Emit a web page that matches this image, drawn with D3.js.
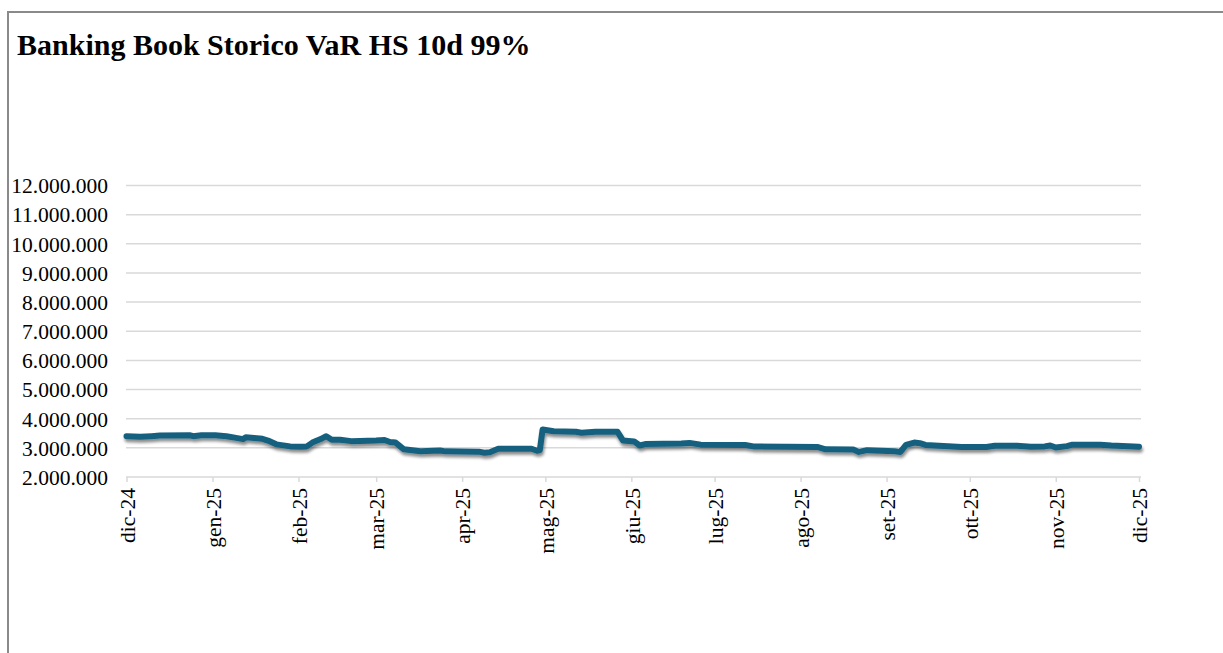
<!DOCTYPE html>
<html>
<head>
<meta charset="utf-8">
<script src="https://cdn.jsdelivr.net/npm/d3@7"></script>
<style>
  html, body { margin: 0; padding: 0; background: #fff; overflow: hidden; }
  svg { display: block; font-family: "Liberation Serif", "Times New Roman", serif; }
</style>
</head>
<body>
<svg id="chart" width="1223" height="653"></svg>
<script>
// ---- Data ----
const title = "Banking Book Storico VaR HS 10d 99%";
const dates = [
  "2024-12-01","2024-12-06","2024-12-10","2024-12-13","2024-12-24","2024-12-25","2024-12-28",
  "2025-01-02","2025-01-06","2025-01-09","2025-01-12","2025-01-13","2025-01-17","2025-01-19",
  "2025-01-21","2025-01-24","2025-01-29","2025-02-02","2025-02-04","2025-02-06","2025-02-09",
  "2025-02-11","2025-02-13","2025-02-16","2025-02-20","2025-03-01","2025-03-04","2025-03-06",
  "2025-03-08","2025-03-11","2025-03-17","2025-03-24","2025-03-26","2025-04-07","2025-04-09",
  "2025-04-11","2025-04-14","2025-04-26","2025-04-28","2025-04-29","2025-04-30","2025-05-04",
  "2025-05-12","2025-05-14","2025-05-19","2025-05-27","2025-05-29","2025-06-02","2025-06-04",
  "2025-06-06","2025-06-19","2025-06-22","2025-06-26","2025-07-12","2025-07-15","2025-08-07",
  "2025-08-10","2025-08-20","2025-08-22","2025-08-25","2025-09-04","2025-09-06","2025-09-08",
  "2025-09-11","2025-09-13","2025-09-15","2025-09-28","2025-10-07","2025-10-10","2025-10-18",
  "2025-10-23","2025-10-28","2025-10-30","2025-11-01","2025-11-05","2025-11-07","2025-11-17",
  "2025-11-21","2025-12-01"
];
const values = [
  3400000,3380000,3400000,3420000,3430000,3400000,3430000,
  3430000,3400000,3350000,3300000,3360000,3330000,3310000,
  3250000,3120000,3050000,3040000,3050000,3180000,3300000,
  3400000,3280000,3280000,3230000,3250000,3270000,3200000,
  3180000,2950000,2880000,2910000,2880000,2870000,2830000,
  2850000,2970000,2970000,2900000,2920000,3630000,3570000,
  3550000,3520000,3550000,3550000,3250000,3220000,3080000,
  3130000,3150000,3170000,3110000,3100000,3050000,3030000,
  2950000,2940000,2860000,2920000,2880000,2860000,3100000,
  3180000,3160000,3100000,3030000,3030000,3070000,3070000,
  3040000,3050000,3080000,3010000,3060000,3110000,3110000,
  3080000,3040000
];
const yTicks = [2000000,3000000,4000000,5000000,6000000,7000000,8000000,9000000,10000000,11000000,12000000];
const xTickLabels = ["dic-24","gen-25","feb-25","mar-25","apr-25","mag-25","giu-25","lug-25","ago-25","set-25","ott-25","nov-25","dic-25"];
const xStart = "2024-12-01", xEnd = "2025-12-01";

// ---- Chart ----
const FONT = "'Liberation Serif', 'Times New Roman', serif";
const svg = d3.select("#chart");
const parse = d3.utcParse("%Y-%m-%d");
const data = dates.map((d, i) => ({ date: parse(d), value: values[i] }));

const x = d3.scaleUtc().domain([parse(xStart), parse(xEnd)]).range([126.5, 1139]);
const y = d3.scaleLinear().domain([2000000, 12000000]).range([477, 185.5]);

const loc = d3.formatLocale({ decimal: ",", thousands: ".", grouping: [3], currency: ["€", ""] });
const fmt = loc.format(",.0f");

// frame
svg.append("rect")
  .attr("x", 8).attr("y", 12).attr("width", 1300).attr("height", 800)
  .attr("fill", "none").attr("stroke", "#8a8a8a").attr("stroke-width", 2);

// title
svg.append("text")
  .attr("x", 17).attr("y", 55)
  .attr("font-family", FONT)
  .attr("font-weight", "bold").attr("font-size", 30).attr("fill", "#000")
  .text(title);

// gridlines
svg.append("g").selectAll("line")
  .data(yTicks.slice(1))
  .join("line")
  .attr("x1", 126).attr("x2", 1141)
  .attr("y1", d => y(d)).attr("y2", d => y(d))
  .attr("stroke", "#d9d9d9").attr("stroke-width", 1.5);

// y axis labels
const yAxis = d3.axisLeft(y).tickValues(yTicks).tickFormat(fmt).tickSize(0).tickPadding(0);
const gy = svg.append("g").attr("transform", "translate(108,0)").call(yAxis);
gy.attr("font-family", FONT);
gy.select(".domain").remove();
gy.selectAll("text")
  .attr("font-family", FONT)
  .attr("font-size", 21.5).attr("fill", "#000").attr("dy", "0.34em");

// x axis
const monthTicks = d3.utcMonth.range(parse(xStart), d3.utcDay.offset(parse(xEnd), 1));
const xAxis = d3.axisBottom(x).tickValues(monthTicks)
  .tickFormat((d, i) => xTickLabels[i]).tickSize(5).tickSizeOuter(0).tickPadding(0);
const gx = svg.append("g").attr("transform", "translate(0,477)").call(xAxis);
gx.attr("font-family", FONT);
gx.select(".domain").attr("stroke", "#d9d9d9").attr("stroke-width", 1.5)
  .attr("d", `M126,0H1141`);
gx.selectAll(".tick line").attr("stroke", "#d9d9d9").attr("stroke-width", 1.5);
gx.selectAll(".tick text")
  .attr("font-family", FONT)
  .attr("font-size", 21.5).attr("fill", "#000")
  .attr("text-anchor", "end")
  .attr("transform", "translate(0,11) rotate(-90)")
  .attr("x", 0).attr("y", 0).attr("dy", "0.36em");

// shadow filter
const defs = svg.append("defs");
const f = defs.append("filter").attr("id", "shadow")
  .attr("x", "-5%").attr("y", "-50%").attr("width", "110%").attr("height", "200%");
f.append("feDropShadow").attr("dx", 1).attr("dy", 3).attr("stdDeviation", 1.8)
  .attr("flood-color", "#000").attr("flood-opacity", 0.45);

// line
const line = d3.line().x(d => x(d.date)).y(d => y(d.value)).curve(d3.curveLinear);
svg.append("path")
  .datum(data)
  .attr("d", line)
  .attr("fill", "none")
  .attr("stroke", "#17607f")
  .attr("stroke-width", 6)
  .attr("stroke-linejoin", "round")
  .attr("stroke-linecap", "round")
  .attr("filter", "url(#shadow)");
</script>
</body>
</html>
